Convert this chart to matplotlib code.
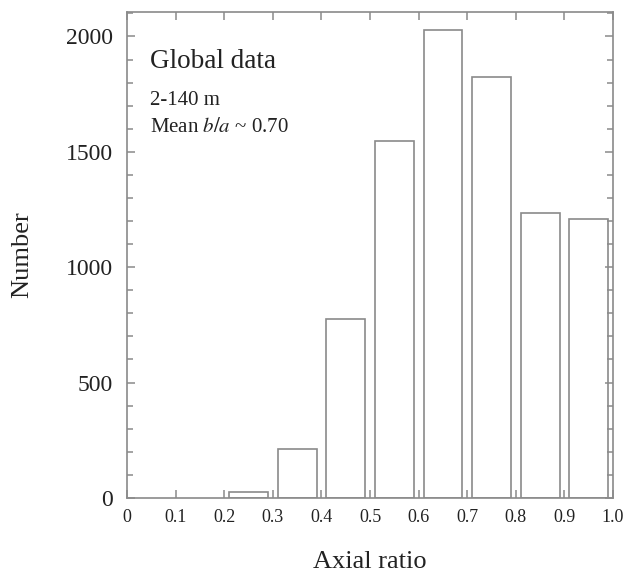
import matplotlib.pyplot as plt
from matplotlib.ticker import MultipleLocator

# ----------------- DATA -----------------
bin_starts = [0.2, 0.3, 0.4, 0.5, 0.6, 0.7, 0.8, 0.9]
counts = [27, 214, 777, 1546, 2028, 1826, 1236, 1210]
xticks = [0, 0.1, 0.2, 0.3, 0.4, 0.5, 0.6, 0.7, 0.8, 0.9, 1.0]
xticklabels = ["0", "0.1", "0.2", "0.3", "0.4", "0.5", "0.6", "0.7", "0.8", "0.9", "1.0"]
yticks = [0, 500, 1000, 1500, 2000]
# -----------------------------------------

plt.rcParams["font.family"] = ["Liberation Serif", "DejaVu Serif"]
plt.rcParams["mathtext.fontset"] = "stix"

GRAY = "#8a8a8a"
TEXT = "#222222"

fig = plt.figure(figsize=(6.23, 5.81), dpi=100)
ax = fig.add_axes([0.204, 0.143, 0.78, 0.836])

ax.bar([b + 0.05 for b in bin_starts], counts, width=0.08,
       facecolor="white", edgecolor=GRAY, linewidth=1.2)

ax.set_xlim(0, 1.0)
ax.set_ylim(0, 2105)
ax.set_xticks(xticks)
ax.set_xticklabels(xticklabels)
ax.set_yticks(yticks)
ax.yaxis.set_minor_locator(MultipleLocator(100))

for s in ax.spines.values():
    s.set_color(GRAY)
    s.set_linewidth(1.2)

ax.tick_params(which="both", direction="in", top=True, right=True,
               color=GRAY, width=1.1)
ax.tick_params(which="major", length=6)
ax.tick_params(which="minor", length=4)
ax.tick_params(axis="x", labelsize=13, labelcolor=TEXT, pad=8)
ax.tick_params(axis="y", labelsize=17, labelcolor=TEXT, pad=10)

ax.set_xlabel("Axial ratio", fontsize=19, color=TEXT, labelpad=18)
ax.set_ylabel("Number", fontsize=19, color=TEXT, labelpad=24)

ax.text(0.047, 0.885, "Global data", transform=ax.transAxes,
        fontsize=19.5, color=TEXT)
ax.text(0.047, 0.809, "2-140 m", transform=ax.transAxes,
        fontsize=15, color=TEXT)
ax.text(0.047, 0.754, "Mean $\\it{b/a}$ ~ 0.70", transform=ax.transAxes,
        fontsize=15, color=TEXT)

fig.savefig("out.png", dpi=100)
